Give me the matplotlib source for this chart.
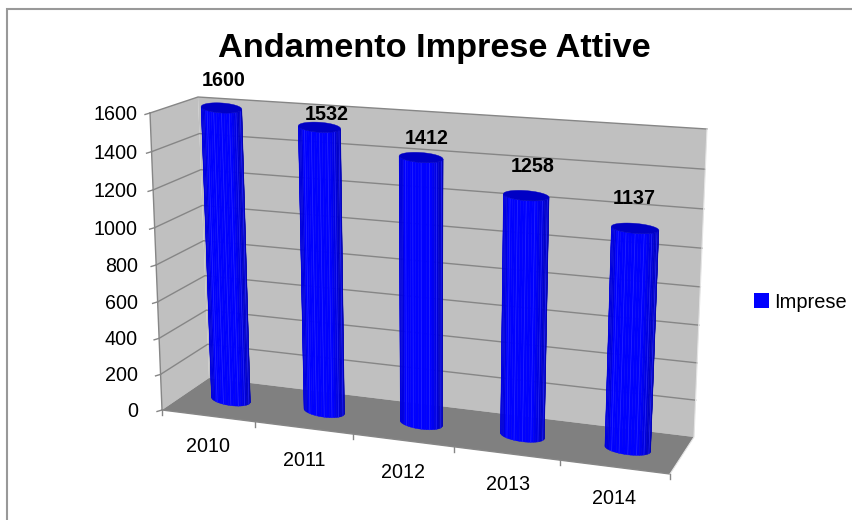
import numpy as np
import matplotlib
matplotlib.use('Agg')
import matplotlib.pyplot as plt
from matplotlib.patches import Polygon, Rectangle

years = ['2010', '2011', '2012', '2013', '2014']
imprese = [1600, 1532, 1412, 1258, 1137]
y_ticks = [0, 200, 400, 600, 800, 1000, 1200, 1400, 1600]
series_name = 'Imprese'
title = 'Andamento Imprese Attive'

plt.rcParams['font.family'] = ['Liberation Sans', 'DejaVu Sans']

W, H = 853, 520
GREY_WALL = '#c0c0c0'
GREY_FLOOR = '#808080'
GREY_LINE = '#868686'

# corners of the 3d box as seen in the picture, (x, y) in pixels
# order: value axis low/high at first category edge, then at last one
BACK = [(209, 378), (198, 97), (694, 437), (707, 129)]
FRONT = [(162, 410), (150, 113), (670, 474), (684, 146)]
MID = [((a[0] + b[0]) / 2, (a[1] + b[1]) / 2) for a, b in zip(BACK, FRONT)]


def homography(corners):
    # maps (u, v), u in 0..n categories and v in 0..1600, on to the picture
    src = [(0, 0), (0, 1600), (len(years), 0), (len(years), 1600)]
    A, b = [], []
    for (u, v), (x, y) in zip(src, corners):
        A.append([u, v, 1, 0, 0, 0, -u * x, -v * x])
        A.append([0, 0, 0, u, v, 1, -u * y, -v * y])
        b += [x, y]
    h = np.linalg.solve(np.array(A, float), np.array(b, float))
    m = np.append(h, 1).reshape(3, 3)

    def project(u, v):
        p = m @ np.array([u, v, 1.0])
        return np.array([p[0] / p[2], p[1] / p[2]])
    return project


back = homography(BACK)
front = homography(FRONT)
mid = homography(MID)

fig = plt.figure(figsize=(W / 100, H / 100), dpi=100)
ax = fig.add_axes([0, 0, 1, 1])
ax.set_xlim(0, W)
ax.set_ylim(H, 0)
ax.axis('off')

# chart border, runs off the picture on the right and at the bottom
ax.plot([7, 7, W + 5], [H + 5, 9, 9], color='#999999', lw=1.5, solid_joinstyle='miter')

# walls and floor
n = len(years)
ax.add_patch(Polygon([BACK[1], BACK[3], BACK[2], BACK[0]], fc=GREY_WALL, ec='none'))
ax.add_patch(Polygon([FRONT[1], BACK[1], BACK[0], FRONT[0]], fc=GREY_WALL, ec='none'))
ax.add_patch(Polygon([FRONT[0], BACK[0], BACK[2], FRONT[2]], fc=GREY_FLOOR, ec='none'))

# gridlines
for t in y_ticks[1:]:
    a, b, c = front(0, t), back(0, t), back(n, t)
    ax.plot([a[0], b[0], c[0]], [a[1], b[1], c[1]], color=GREY_LINE, lw=1)

# axis lines and ticks
ax.plot([FRONT[0][0], FRONT[1][0]], [FRONT[0][1], FRONT[1][1]], color=GREY_LINE, lw=1)
ax.plot([FRONT[0][0], FRONT[2][0]], [FRONT[0][1], FRONT[2][1]], color=GREY_LINE, lw=1)
ax.plot([BACK[3][0], BACK[2][0], FRONT[2][0]], [BACK[3][1], BACK[2][1], FRONT[2][1]],
        color='#e4e4e4', lw=0.8)
for t in y_ticks:
    p = front(0, t)
    ax.plot([p[0] - 5, p[0]], [p[1] + 1.5, p[1]], color=GREY_LINE, lw=1)
    ax.text(138, p[1] + 1.5, str(t), ha='right', va='center', fontsize=14.2, color='black')
for i in range(n + 1):
    p = front(i, 0)
    ax.plot([p[0], p[0]], [p[1], p[1] + 5], color=GREY_LINE, lw=1)


def shade(pos):
    # pos -1 left edge, +1 right edge of the cylinder
    if pos < -0.8:
        k = 0.88
    elif pos < 0.45:
        k = 1.0
    else:
        k = 1.0 - (pos - 0.45) * 0.5
    return (0, 0, k)


BAR_WIDTH = 0.425
CAP_B = 5
BASE_B = 6
for i, val in enumerate(imprese):
    u = i + 0.5
    bl, br = mid(u - BAR_WIDTH / 2, 0), mid(u + BAR_WIDTH / 2, 0)
    tl, tr = mid(u - BAR_WIDTH / 2, val), mid(u + BAR_WIDTH / 2, val)
    bc, tc = (bl + br) / 2, (tl + tr) / 2
    angles = np.linspace(np.pi, 0, 25)
    for j in range(len(angles) - 1):
        a0, a1 = angles[j], angles[j + 1]
        pts = []
        for a, cen, rim, b in [(a0, tc, tr, CAP_B), (a1, tc, tr, CAP_B),
                               (a1, bc, br, BASE_B), (a0, bc, br, BASE_B)]:
            pts.append(cen + (rim - cen) * np.cos(a) + np.array([0, b * np.sin(a)]))
        col = shade(np.cos((a0 + a1) / 2))
        ax.add_patch(Polygon(pts, fc=col, ec=col, lw=0.3, zorder=3, snap=False))
        if j % 3 == 2 and 3 < j < 21:
            ax.plot([pts[1][0], pts[2][0]], [pts[1][1], pts[2][1]], color='#2626ff',
                    lw=0.5, zorder=4, snap=False)
    a = np.linspace(0, 2 * np.pi, 50)
    cap = [tc + (tr - tc) * np.cos(s) + np.array([0, CAP_B * np.sin(s)]) for s in a]
    ax.add_patch(Polygon(cap, fc='#0000c4', ec='#0000c4', lw=0.3, zorder=5, snap=False))

# value labels and category labels, placed as in the original chart
value_label_pos = [(224, 81), (327, 114), (427, 138), (533, 167), (634, 199)]
for val, (x, y) in zip(imprese, value_label_pos):
    ax.text(x, y, str(val), ha='center', va='center', fontsize=14.2,
            fontweight='bold', color='black', zorder=6)
year_label_pos = [(208, 447), (304, 460), (403, 472), (508, 485), (614, 498)]
for yr, (x, y) in zip(years, year_label_pos):
    ax.text(x, y, yr, ha='center', va='center', fontsize=14.2, color='black')

ax.text(434, 48, title, ha='center', va='center', fontsize=24.7, fontweight='bold', color='black')

# legend
ax.add_patch(Rectangle((754, 293), 15, 15, fc='#0000ff', ec='none'))
ax.text(774, 303, series_name, ha='left', va='center', fontsize=14.4, color='black')

fig.savefig('out.png', dpi=100)
